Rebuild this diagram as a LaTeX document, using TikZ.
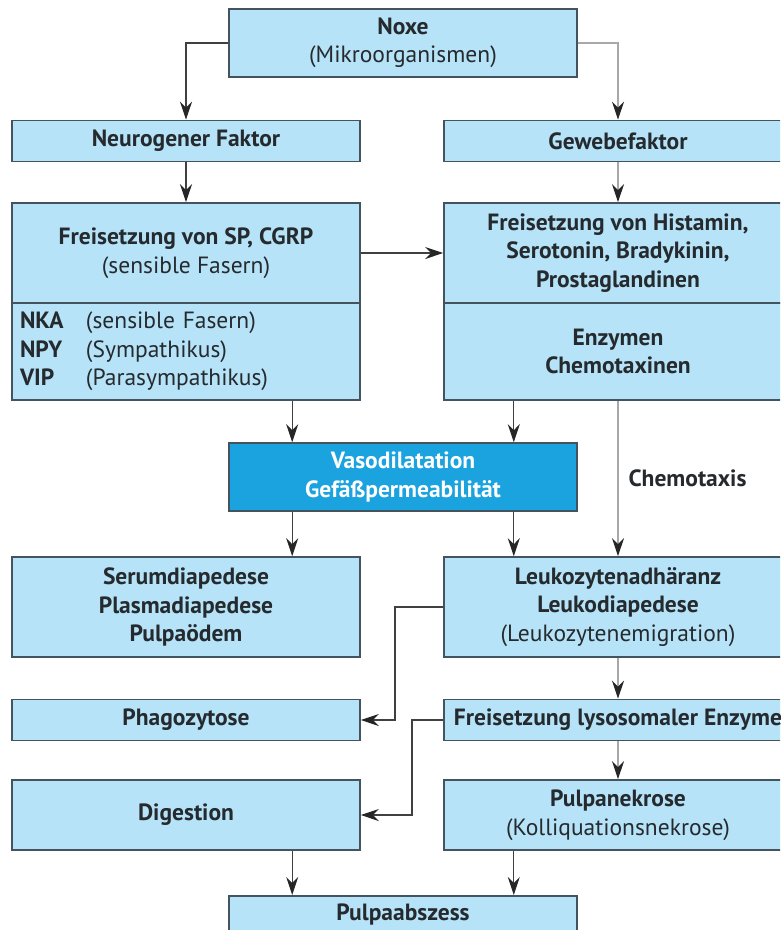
\documentclass[tikz,border=0pt]{standalone}
\usepackage{fontspec}
\setmainfont{PT Sans}
\usetikzlibrary{arrows.meta,calc}
\definecolor{boxfill}{HTML}{B6E3F7}
\definecolor{boxdraw}{HTML}{44545E}
\definecolor{vasofill}{HTML}{1BA3DF}
\definecolor{txt}{HTML}{252A2E}
\definecolor{lgray}{HTML}{A8A8A8}
\begin{document}
\begin{tikzpicture}[x=1pt,y=-1pt,
  box/.style={draw=boxdraw, line width=1.6pt, fill=boxfill, text=txt,
    font=\fontsize{23.5}{28.5}\selectfont, align=center, inner sep=0pt,
    minimum width=348pt},
  vbox/.style={box, fill=vasofill, text=white},
  arr/.style={draw=black!75, line width=1.2pt, -{Stealth[length=18pt,width=12pt,inset=6pt,color=black!85]}},
  garr/.style={arr, draw=lgray},
  lab/.style={text=txt, font=\fontsize{23.5}{28.5}\selectfont\bfseries, inner sep=0pt, anchor=west}
]
\useasboundingbox (0,0) rectangle (780,930);
\fill[white] (0,0) rectangle (780,930);
\clip (0,0) rectangle (780,930);

% boxes
\node[box, minimum height=68pt] (noxe) at (403,43) {\textbf{Noxe}\\(Mikroorganismen)};
\node[box, minimum height=41pt] (neuro) at (186,141) {\textbf{Neurogener Faktor}};
\node[box, minimum height=41pt] (gewebe) at (618,141) {\textbf{Gewebefaktor}};
\node[box, minimum height=100pt] (sp) at (186,253) {\textbf{Freisetzung von SP, CGRP}\\(sensible Fasern)};
\node[box, minimum height=97pt, text width=332pt, inner sep=8pt, align=left, minimum width=348pt] (spb) at (186,351.5)
  {\makebox[66pt][l]{\textbf{NKA}}(sensible Fasern)\\
   \makebox[66pt][l]{\textbf{NPY}}(Sympathikus)\\
   \makebox[66pt][l]{\textbf{VIP}}(Parasympathikus)};
\node[box, minimum height=100pt] (hist) at (618,253) {\textbf{Freisetzung von Histamin,}\\\textbf{Serotonin, Bradykinin,}\\\textbf{Prostaglandinen}};
\node[box, minimum height=97pt] (enz) at (618,351.5) {\textbf{Enzymen}\\\textbf{Chemotaxinen}};
\node[vbox, minimum height=68pt] (vaso) at (403,477) {\textbf{Vasodilatation}\\\textbf{Gefäßpermeabilität}};
\node[box, minimum height=100pt] (serum) at (186,607) {\textbf{Serumdiapedese}\\\textbf{Plasmadiapedese}\\\textbf{Pulpaödem}};
\node[box, minimum height=100pt] (leuko) at (618,607) {\textbf{Leukozytenadhäranz}\\\textbf{Leukodiapedese}\\(Leukozytenemigration)};
\node[box, minimum height=41pt] (phago) at (186,720) {\textbf{Phagozytose}};
\node[box, minimum height=41pt] (lyso) at (618,720) {\textbf{Freisetzung lysosomaler Enzyme}};
\node[box, minimum height=70pt] (dig) at (186,815) {\textbf{Digestion}};
\node[box, minimum height=70pt] (nekr) at (618,815) {\textbf{Pulpanekrose}\\(Kolliquationsnekrose)};
\node[box, minimum height=38pt, anchor=north] (absz) at (403,895) {\textbf{Pulpaabszess}};

% helper coordinates
\coordinate (v1) at ($(vaso.north west)+(64,0)$);
\coordinate (v2) at ($(vaso.north east)+(-64,0)$);
\coordinate (w1) at ($(vaso.south west)+(64,0)$);
\coordinate (w2) at ($(vaso.south east)+(-64,0)$);
\coordinate (a1) at ($(absz.north west)+(64,0)$);
\coordinate (a2) at ($(absz.north east)+(-64,0)$);
\coordinate (k1) at (395,0);
\coordinate (k2) at (412,0);

% connectors
\draw[arr] (noxe.west) -| (neuro.north);
\draw[garr] (noxe.east) -| (gewebe.north);
\draw[arr] (neuro.south) -- (sp.north);
\draw[garr] (gewebe.south) -- (hist.north);
\draw[arr] (sp.east) -- (hist.west);
\draw[arr] (spb.south -| v1) -- (v1);
\draw[arr] (enz.south -| v2) -- (v2);
\draw[garr] (enz.south) -- node[lab, xshift=10pt] (chemo) {Chemotaxis} (leuko.north);
\draw[arr] (w1) -- (serum.north -| w1);
\draw[arr] (w2) -- (leuko.north -| w2);
\draw[arr] (leuko.west) -| (k1 |- phago.east) -- (phago.east);
\draw[garr] (leuko.south) -- (lyso.north);
\draw[garr] (lyso.south) -- (nekr.north);
\draw[arr] (lyso.west) -| (k2 |- dig.east) -- (dig.east);
\draw[arr] (dig.south -| a1) -- (a1);
\draw[arr] (nekr.south -| a2) -- (a2);
\end{tikzpicture}
\end{document}
